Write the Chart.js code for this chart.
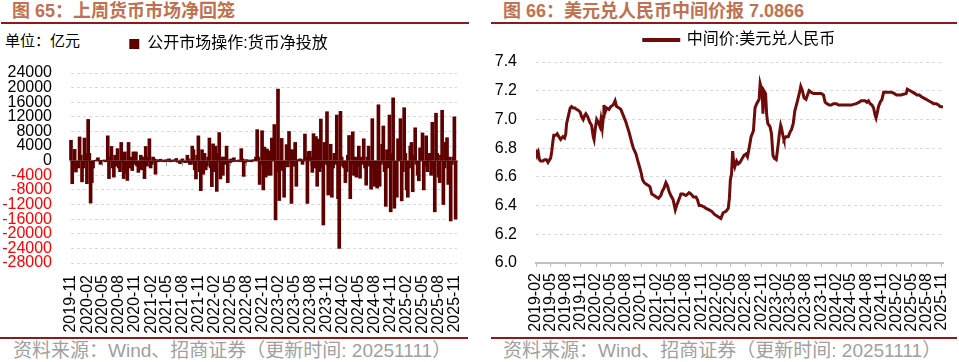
<!DOCTYPE html>
<html>
<head>
<meta charset="utf-8">
<script src="https://cdn.jsdelivr.net/npm/chart.js@4.4.1/dist/chart.umd.min.js"></script>
<style>
body{margin:0;width:959px;height:362px;background:#fff;position:relative;overflow:hidden;font-family:"Liberation Sans","Noto Sans CJK SC",sans-serif;}
.title{position:absolute;top:1px;font-size:18px;line-height:20px;font-weight:bold;color:#c0714f;white-space:nowrap;}
.rule{position:absolute;height:2px;background:#8b1a1a;}
.unit{position:absolute;left:5px;top:33px;font-size:15px;line-height:16px;color:#000;}
.src{position:absolute;top:341px;font-size:19px;line-height:20px;color:#a0a0a0;white-space:nowrap;}
canvas{position:absolute;}
</style>
</head>
<body>
<div class="title" style="left:12px">图 65：上周货币市场净回笼</div>
<div class="rule" style="left:1px;width:468px;top:22px"></div>
<div class="unit">单位：亿元</div>
<canvas id="omo" width="470" height="320" style="left:0;top:15px"></canvas>
<div class="rule" style="left:0;width:468px;top:337px;height:1.5px"></div>
<div class="src" style="left:13px">资料来源：Wind、招商证券（更新时间: 20251111）</div>

<div class="title" style="left:503px">图 66：美元兑人民币中间价报 7.0866</div>
<div class="rule" style="left:491px;width:466px;top:22px"></div>
<canvas id="usd" width="479" height="317" style="left:480px;top:18px"></canvas>
<div class="rule" style="left:491px;width:466px;top:337px;height:1.5px"></div>
<div class="src" style="left:503px">资料来源：Wind、招商证券（更新时间: 20251111）</div>

<script>
// weekly net injection (亿元), one value per week starting 2019-11-01
const omoStart = '2019-11-01';
const netInjection = [
  5600,-6300,-1500,3100,-3100,-1500,-2000,6500,1500,-5800,-2000,6200,2000,-6300,11300,
  2000,-11600,-6000,-2000,0,0,200,800,0,-1000,0,0,200,-300,0,
  6800,-4900,1000,3900,-2000,-4500,1500,-1500,3300,-2000,-3000,5000,2000,-4900,2400,
  -3500,-5400,5000,-2000,1000,-2700,2400,-1000,2400,-1500,-3200,-2300,1500,-2500,1000,
  -4900,3900,-1500,1000,6000,-2000,-1000,1000,500,-3700,300,-300,0,400,-200,
  200,-300,0,300,-200,500,-300,200,0,-200,300,600,-400,-200,-800,
  200,500,-300,-500,-500,1500,500,-1000,-1000,4000,3000,-2500,-5000,1500,6800,
  -3000,-8200,3000,-3700,2000,-2500,-1500,1000,6200,-2000,-7100,4600,-3000,4000,-8400,
  2000,7700,-5000,1000,-4000,1000,-1000,4000,-6000,300,-500,500,-300,800,0,
  -200,0,200,-300,3300,500,-4300,-500,300,-200,0,200,-300,0,300,
  0,1000,8500,1000,-6500,-1000,8200,-8000,3700,-4500,3200,-4000,2700,-4000,6200,
  2000,9900,-16200,-3000,19600,-10900,-2000,6100,-2700,-10000,-1000,4400,-1700,8000,3000,
  -11700,3000,-1500,5000,-7000,300,0,500,0,-1000,300,7300,1000,-11700,2500,
  2600,1000,-3200,7400,-2000,6600,-7000,5900,-3000,11400,-2000,-17600,5000,-1000,13400,
  -9400,-1500,4500,-10000,-2000,2000,-1000,12500,-10400,-24000,13500,1000,-1500,-2000,-6000,
  -3000,1500,6900,-10400,-1000,7900,-4000,1000,-4500,-1500,4000,-4800,1000,-1000,6000,
  -2000,-6700,1000,4000,-1500,-7800,11500,-2500,-7000,-3000,-7500,15300,-7000,-1000,4500,
  9500,-3000,-12500,3000,-2000,12500,-14000,2000,17200,-13000,-5000,-10000,6000,2500,11500,
  -11000,-3000,14500,2000,-8000,-10000,-2000,4000,5000,-8500,1500,9000,-1000,-4000,-5500,
  3500,2000,7600,-8000,-1500,6800,-3000,1000,2000,-4000,10500,-2000,-14000,13000,2000,
  -4500,-6000,1500,13800,-12000,-2000,5000,6300,-6500,1000,-16500,-1000,1000,12000,-16000
];
const omoTicks = ['2019-11','2020-02','2020-05','2020-08','2020-11','2021-02','2021-05','2021-08','2021-11',
  '2022-02','2022-05','2022-08','2022-11','2023-02','2023-05','2023-08','2023-11','2024-02','2024-05',
  '2024-08','2024-11','2025-02','2025-05','2025-08','2025-11'];

// USD/CNY central parity
const usdStart = '2019-02-01';
const usdDates = [
  '2019-02-01','2019-02-08','2019-02-15','2019-02-22','2019-03-01','2019-03-15','2019-03-25','2019-04-05','2019-04-15','2019-04-25',
  '2019-05-01','2019-05-08','2019-05-14','2019-05-20','2019-06-01','2019-06-10','2019-06-20','2019-07-01','2019-07-15','2019-07-25',
  '2019-08-01','2019-08-06','2019-08-12','2019-08-20','2019-08-28','2019-09-05','2019-09-15','2019-09-25','2019-10-05','2019-10-20',
  '2019-10-28','2019-11-05','2019-11-15','2019-11-25','2019-12-01','2019-12-12','2019-12-25','2020-01-05','2020-01-15','2020-01-20',
  '2020-01-28','2020-02-05','2020-02-15','2020-02-25','2020-03-02','2020-03-10','2020-03-17','2020-03-20','2020-03-27','2020-04-05',
  '2020-04-20','2020-05-01','2020-05-15','2020-05-27','2020-06-05','2020-06-20','2020-07-01','2020-07-15','2020-08-01','2020-08-20',
  '2020-09-05','2020-09-15','2020-10-01','2020-10-10','2020-10-20','2020-11-01','2020-11-10','2020-11-20','2020-12-01','2020-12-15',
  '2020-12-25','2021-01-05','2021-01-20','2021-02-01','2021-02-15','2021-03-01','2021-03-10','2021-03-20','2021-04-01','2021-04-10',
  '2021-04-20','2021-05-01','2021-05-15','2021-05-28','2021-06-05','2021-06-15','2021-06-25','2021-07-01','2021-07-15','2021-08-01',
  '2021-08-20','2021-09-01','2021-09-15','2021-10-01','2021-10-10','2021-10-20','2021-11-01','2021-11-20','2021-12-01','2021-12-20',
  '2022-01-05','2022-01-20','2022-02-01','2022-02-15','2022-03-01','2022-03-15','2022-04-01','2022-04-15','2022-04-22','2022-04-28',
  '2022-05-05','2022-05-12','2022-05-18','2022-05-25','2022-06-05','2022-06-15','2022-06-25','2022-07-05','2022-07-20','2022-08-01',
  '2022-08-10','2022-08-20','2022-09-01','2022-09-15','2022-09-25','2022-10-05','2022-10-20','2022-10-26','2022-11-02','2022-11-08',
  '2022-11-12','2022-11-18','2022-11-28','2022-12-05','2022-12-12','2022-12-25','2023-01-03','2023-01-12','2023-01-20','2023-02-01',
  '2023-02-10','2023-02-20','2023-02-28','2023-03-05','2023-03-15','2023-03-20','2023-04-01','2023-04-15','2023-04-25','2023-05-05',
  '2023-05-15','2023-05-25','2023-06-10','2023-06-25','2023-06-30','2023-07-10','2023-07-20','2023-08-01','2023-08-10','2023-08-20',
  '2023-09-01','2023-09-15','2023-10-01','2023-10-15','2023-11-01','2023-11-15','2023-11-25','2023-12-05','2023-12-20','2024-01-01',
  '2024-01-15','2024-02-01','2024-02-15','2024-03-01','2024-04-01','2024-05-01','2024-06-01','2024-06-20','2024-07-01','2024-07-15',
  '2024-07-25','2024-08-05','2024-08-15','2024-08-25','2024-09-05','2024-09-15','2024-09-24','2024-09-30','2024-10-08','2024-10-15',
  '2024-10-25','2024-11-05','2024-11-15','2024-12-01','2024-12-20','2025-01-01','2025-01-20','2025-02-01','2025-03-01','2025-03-15',
  '2025-04-01','2025-04-08','2025-04-25','2025-05-10','2025-05-25','2025-06-05','2025-06-20','2025-07-01','2025-07-15','2025-08-01',
  '2025-08-15','2025-09-01','2025-09-15','2025-10-01','2025-10-15','2025-10-25','2025-11-05','2025-11-11'
];
const usdMid = [
  6.79,6.75,6.77,6.72,6.71,6.71,6.72,6.72,6.70,6.72,
  6.73,6.78,6.84,6.89,6.89,6.90,6.88,6.86,6.88,6.87,
  6.90,6.97,7.00,7.04,7.08,7.09,7.08,7.08,7.07,7.06,
  7.05,7.02,7.00,7.03,7.04,7.02,6.98,6.96,6.88,6.86,
  6.94,7.00,6.98,6.95,7.00,6.94,7.02,7.10,7.05,7.08,
  7.07,7.09,7.10,7.13,7.09,7.08,7.07,7.03,6.98,6.91,
  6.84,6.80,6.76,6.72,6.68,6.63,6.58,6.56,6.55,6.54,
  6.53,6.48,6.47,6.46,6.45,6.47,6.50,6.52,6.56,6.54,
  6.50,6.47,6.44,6.37,6.40,6.43,6.46,6.48,6.48,6.47,
  6.49,6.48,6.46,6.46,6.44,6.40,6.40,6.39,6.38,6.37,
  6.36,6.34,6.33,6.32,6.31,6.35,6.36,6.38,6.45,6.58,
  6.62,6.78,6.70,6.67,6.71,6.69,6.70,6.72,6.75,6.76,
  6.74,6.80,6.88,6.92,7.08,7.11,7.14,7.25,7.22,7.18,
  7.04,7.20,7.18,7.03,6.97,6.95,6.90,6.75,6.73,6.72,
  6.80,6.90,6.96,6.94,6.88,6.86,6.88,6.88,6.91,6.93,
  6.97,7.06,7.13,7.20,7.23,7.20,7.15,7.14,7.17,7.20,
  7.19,7.18,7.18,7.18,7.18,7.17,7.12,7.11,7.10,7.10,
  7.11,7.11,7.10,7.10,7.10,7.10,7.11,7.12,7.13,7.13,
  7.13,7.12,7.13,7.11,7.10,7.08,7.03,7.01,7.05,7.09,
  7.12,7.14,7.19,7.19,7.19,7.19,7.18,7.17,7.17,7.175,
  7.18,7.21,7.20,7.19,7.18,7.17,7.17,7.16,7.15,7.14,
  7.13,7.12,7.11,7.11,7.10,7.09,7.088,7.0866
];
const usdTicks = ['2019-02','2019-05','2019-08','2019-11','2020-02','2020-05','2020-08','2020-11','2021-02',
  '2021-05','2021-08','2021-11','2022-02','2022-05','2022-08','2022-11','2023-02','2023-05','2023-08',
  '2023-11','2024-02','2024-05','2024-08','2024-11','2025-02','2025-05','2025-08','2025-11'];

const DAY = 86400000;
function dayNum(s, start) {
  const a = s.split('-').map(Number), b = start.split('-').map(Number);
  return (Date.UTC(a[0], a[1] - 1, a[2] || 1) - Date.UTC(b[0], b[1] - 1, b[2])) / DAY;
}

const FONT = '"Liberation Sans", "Noto Sans CJK SC", sans-serif';
Chart.defaults.font.family = FONT;
Chart.defaults.color = '#000';

const BAR = '#5e0000';
const LINE = '#6e0b0b';
const GRID = '#d9d9d9';

// fixed legend height so the plot starts where it should
function legendHeight(h) {
  return {
    id: 'legendHeight',
    beforeInit(chart) {
      const fit = chart.legend.fit;
      chart.legend.fit = function () { fit.call(this); this.height = h; };
    }
  };
}
const fixX = h => s => { s.height = h; s.paddingLeft = 0; s.paddingRight = 0; };

//Left chart: weekly bars
const omoTickDays = omoTicks.map(t => dayNum(t, omoStart));
const omoLabel = {};
omoTickDays.forEach((d, i) => { omoLabel[d] = omoTicks[i]; });

new Chart(document.getElementById('omo'), {
  type: 'bar',
  data: {
    datasets: [{
      label: '公开市场操作:货币净投放',
      data: netInjection.map((v, i) => ({ x: i * 7, y: v })),
      backgroundColor: BAR,
      borderWidth: 0,
      barThickness: 3,
      clip: false
    }]
  },
  options: {
    responsive: false,
    animation: false,
    devicePixelRatio: 1,
    layout: { padding: { left: 0, right: 13, bottom: 0, top: 0 } },
    plugins: {
      tooltip: { enabled: false },
      legend: {
        labels: { font: { size: 16 }, color: '#000', boxWidth: 10, boxHeight: 10, padding: 21 }
      }
    },
    scales: {
      x: {
        type: 'linear', min: 0, max: 2206, offset: false,
        afterBuildTicks: axis => { axis.ticks = omoTickDays.map(v => ({ value: v })); },
        afterFit: fixX(72),
        grid: { display: false, drawTicks: false, offset: false },
        border: { display: false },
        ticks: {
          autoSkip: false, minRotation: 90, maxRotation: 90, padding: 12,
          font: { size: 16 }, color: '#000',
          callback: v => omoLabel[v] ?? ''
        }
      },
      x2: {
        type: 'linear', axis: 'x', min: 0, max: 2206, offset: false,
        position: { y: 0 }, z: 1,
        afterBuildTicks: axis => { axis.ticks = omoTickDays.map(v => ({ value: v })); },
        afterFit: s => { s.paddingLeft = 0; s.paddingRight = 0; },
        grid: { drawOnChartArea: false, drawTicks: true, tickLength: 4, color: '#a89b9b', offset: false },
        border: { display: true, color: '#a89b9b', width: 2 },
        ticks: { display: false }
      },
      y: {
        min: -28000, max: 24000,
        afterFit: s => { s.width = 71; },
        ticks: {
          stepSize: 4000, autoSkip: false, padding: 19, font: { size: 16 },
          color: ctx => ctx.tick.value < 0 ? '#ff0000' : '#000',
          callback: v => String(v)
        },
        grid: {
          drawTicks: false,
          color: ctx => ctx.tick.value === 0 ? 'rgba(0,0,0,0)' : GRID
        },
        border: { display: false, dash: [3, 3] }
      }
    }
  },
  plugins: [legendHeight(58)]
});

//Right chart: central parity line
const usdTickDays = usdTicks.map(t => dayNum(t, usdStart));
const usdLabel = {};
usdTickDays.forEach((d, i) => { usdLabel[d] = usdTicks[i]; });

new Chart(document.getElementById('usd'), {
  type: 'line',
  data: {
    datasets: [{
      label: '中间价:美元兑人民币',
      data: usdDates.map((d, i) => ({ x: dayNum(d, usdStart), y: usdMid[i] })),
      borderColor: LINE,
      backgroundColor: LINE,
      borderWidth: 3,
      pointRadius: 0,
      tension: 0
    }]
  },
  options: {
    responsive: false,
    animation: false,
    devicePixelRatio: 1,
    layout: { padding: { left: 0, right: 16, bottom: 0, top: 0 } },
    plugins: {
      tooltip: { enabled: false },
      legend: {
        fullSize: false,
        labels: { font: { size: 16 }, color: '#000', boxWidth: 35, boxHeight: 1, padding: 14 }
      }
    },
    scales: {
      x: {
        type: 'linear', min: 0, max: 2475,
        afterBuildTicks: axis => { axis.ticks = usdTickDays.map(v => ({ value: v })); },
        afterFit: fixX(72),
        grid: { drawOnChartArea: false, drawTicks: true, tickLength: 4, color: '#bfbfbf' },
        border: { display: true, color: '#bfbfbf', width: 2 },
        ticks: {
          autoSkip: false, minRotation: 90, maxRotation: 90, padding: 6,
          font: { size: 16 }, color: '#000',
          callback: v => usdLabel[v] ?? ''
        }
      },
      y: {
        min: 6.0, max: 7.4,
        afterFit: s => { s.width = 56; },
        ticks: {
          stepSize: 0.2, padding: 19, font: { size: 16 }, color: '#000',
          callback: v => v.toFixed(1)
        },
        grid: {
          drawTicks: false,
          color: ctx => Math.abs(ctx.tick.value - 6) < 1e-6 ? 'rgba(0,0,0,0)' : GRID
        },
        border: { display: false, dash: [3, 3] }
      }
    }
  },
  plugins: [legendHeight(44)]
});
</script>
</body>
</html>
